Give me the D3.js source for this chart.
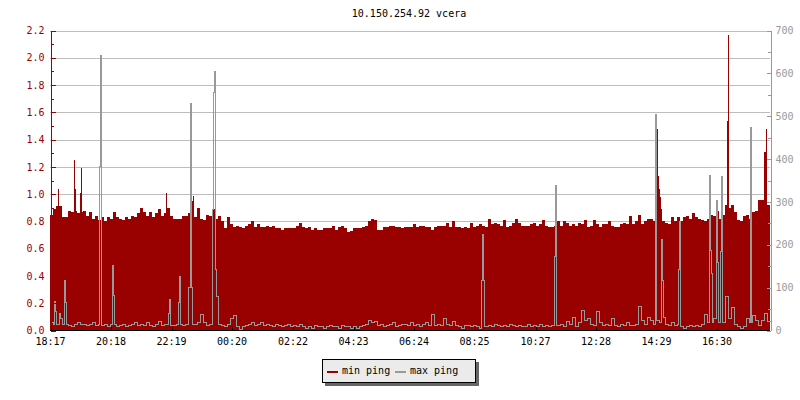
<!DOCTYPE html>
<html><head><meta charset="utf-8">
<script src="https://cdn.jsdelivr.net/npm/d3@7"></script>
<style>
body{margin:0;background:#fff}
svg text{font-family:"DejaVu Sans Mono",monospace;font-size:10px}
</style>
</head><body><svg id="c" width="800" height="400"></svg>
<script>
const title = "10.150.254.92 vcera";
const startTime = "18:17";
const binMinutes = 6;      // resolution of the binned series
const stepMinutes = 2;     // resolution of the drawn graph
const timeLabels = ["18:17","20:18","22:19","00:20","02:22","04:23","06:24","08:25","10:27","12:28","14:29","16:30"];
const leftTicks = [0,0.2,0.4,0.6,0.8,1.0,1.2,1.4,1.6,1.8,2.0,2.2];
const leftMinor = [0.1,0.3,0.5,0.7,0.9,1.1,1.3,1.5,1.7,1.9,2.1];
const rightTicks = [0,100,200,300,400,500,600,700];
const rightMinor = [50,150,250,350,450,550,650];
const seriesNames = ["min ping","max ping"];
const seriesColors = ["#990000","#999999"];

// 6-minute bins
const minPing = [
0.85,0.89,0.91,0.91,0.83,0.83,0.88,0.87,0.88,0.86,0.87,0.88,0.84,0.87,0.82,0.84,0.81,0.83,0.80,0.83,
0.82,0.87,0.83,0.82,0.81,0.83,0.82,0.84,0.83,0.86,0.90,0.87,0.84,0.87,0.83,0.86,0.89,0.84,0.86,0.90,
0.84,0.82,0.82,0.82,0.84,0.84,0.86,0.88,0.83,0.90,0.82,0.81,0.85,0.84,0.89,0.82,0.84,0.80,0.75,0.83,
0.78,0.76,0.77,0.76,0.75,0.77,0.78,0.80,0.76,0.78,0.76,0.76,0.77,0.76,0.77,0.75,0.75,0.74,0.75,0.75,
0.75,0.75,0.77,0.79,0.76,0.75,0.76,0.74,0.75,0.74,0.74,0.75,0.75,0.75,0.77,0.74,0.76,0.77,0.75,0.72,
0.73,0.75,0.75,0.75,0.76,0.77,0.80,0.82,0.81,0.74,0.74,0.76,0.76,0.77,0.77,0.76,0.76,0.75,0.76,0.76,
0.76,0.78,0.76,0.77,0.77,0.76,0.76,0.74,0.76,0.77,0.77,0.77,0.79,0.76,0.80,0.76,0.76,0.75,0.76,0.75,
0.79,0.76,0.77,0.78,0.77,0.76,0.82,0.78,0.79,0.78,0.77,0.81,0.76,0.77,0.79,0.82,0.79,0.77,0.77,0.77,
0.78,0.79,0.77,0.78,0.81,0.77,0.76,0.76,0.77,0.80,0.77,0.80,0.79,0.77,0.78,0.77,0.79,0.78,0.81,0.76,
0.77,0.81,0.78,0.76,0.78,0.78,0.80,0.77,0.76,0.76,0.78,0.79,0.78,0.84,0.78,0.80,0.85,0.78,0.80,0.82,
0.82,0.80,0.89,0.89,0.80,0.79,0.78,0.83,0.80,0.83,0.80,0.83,0.84,0.82,0.86,0.83,0.82,0.81,0.80,0.82,
0.85,0.84,0.88,0.82,0.85,0.92,0.90,0.92,0.87,0.81,0.80,0.84,0.85,0.82,0.87,0.88,0.96,0.96,1.31,0.92
];
const maxPing = [
0.06,0.05,0.05,0.09,0.05,0.05,0.04,0.03,0.05,0.06,0.05,0.05,0.04,0.05,0.06,0.04,0.05,0.04,0.05,0.03,
0.05,0.05,0.03,0.04,0.05,0.03,0.04,0.05,0.06,0.04,0.05,0.04,0.06,0.04,0.03,0.05,0.07,0.04,0.05,0.05,
0.04,0.04,0.05,0.05,0.04,0.05,0.05,0.05,0.05,0.06,0.12,0.06,0.04,0.05,0.05,0.05,0.05,0.04,0.03,0.05,
0.09,0.11,0.03,0.01,0.03,0.04,0.05,0.06,0.04,0.05,0.06,0.04,0.05,0.04,0.03,0.05,0.04,0.03,0.04,0.05,
0.03,0.04,0.03,0.05,0.03,0.02,0.03,0.02,0.04,0.03,0.03,0.02,0.03,0.04,0.03,0.03,0.02,0.04,0.03,0.03,
0.02,0.03,0.02,0.03,0.04,0.05,0.08,0.06,0.07,0.04,0.05,0.03,0.04,0.05,0.06,0.03,0.04,0.05,0.05,0.04,
0.06,0.04,0.05,0.03,0.05,0.06,0.04,0.12,0.04,0.05,0.04,0.09,0.05,0.04,0.07,0.04,0.03,0.02,0.04,0.04,
0.03,0.04,0.03,0.02,0.03,0.03,0.04,0.03,0.05,0.04,0.03,0.04,0.03,0.05,0.04,0.03,0.04,0.03,0.03,0.05,
0.03,0.04,0.03,0.05,0.03,0.04,0.03,0.04,0.04,0.04,0.05,0.03,0.07,0.05,0.10,0.03,0.06,0.15,0.08,0.09,
0.05,0.04,0.14,0.06,0.04,0.05,0.04,0.09,0.04,0.03,0.05,0.04,0.06,0.04,0.04,0.05,0.18,0.08,0.05,0.10,
0.08,0.05,0.08,0.06,0.10,0.05,0.04,0.06,0.04,0.05,0.03,0.02,0.03,0.04,0.03,0.04,0.03,0.05,0.12,0.06,
0.06,0.09,0.06,0.06,0.06,0.25,0.09,0.17,0.05,0.03,0.02,0.03,0.09,0.06,0.11,0.08,0.04,0.08,0.13,0.07
];
// short 2-minute peaks: [time, value]
const minPingPeaks = [
["18:33",1.04],["19:05",1.25],["19:07",1.04],["19:17",1.01],["19:19",1.19],["22:09",1.01],
["23:01",0.95],["23:03",0.99],["14:31",1.48],["14:33",1.13],["14:35",1.04],["14:37",0.98],
["16:51",1.54],["16:53",2.17],["18:09",1.48]
];
const maxPingPeaks = [
["18:25",0.22],["18:27",0.14],["18:35",0.13],["18:45",0.37],["18:47",0.21],["19:55",1.21],["19:57",2.02],
["20:21",0.48],["20:23",0.26],["22:13",0.13],["22:15",0.23],["22:33",0.21],["22:35",0.40],
["22:53",0.32],["22:55",0.32],["22:57",1.67],["22:59",0.32],["23:41",0.89],["23:43",1.75],["23:45",1.90],
["23:47",0.45],["23:49",0.25],["23:51",0.25],["08:39",0.37],["08:41",0.71],["08:43",0.37],
["11:05",0.55],["11:07",1.07],["14:27",1.59],["14:39",0.67],["14:41",0.37],
["15:13",0.45],["15:15",0.80],["16:15",1.14],["16:17",0.59],["16:19",0.42],["16:29",0.96],["16:31",0.50],
["16:37",0.58],["16:39",1.13],["17:37",1.49]
];

const svg = d3.select("#c");
const N = minPing.length;
const totalMin = N * binMinutes;
const toMin = s => { const [h,m] = s.split(":").map(Number); return h*60+m; };
const t0 = toMin(startTime);
const offset = s => ((toMin(s) - t0) % 1440 + 1440) % 1440;
const tickMinutes = timeLabels.map(offset);

function series(bins, peaks){
  const steps = totalMin / stepMinutes;
  const per = binMinutes / stepMinutes;
  const vals = d3.range(steps).map(s => bins[Math.floor(s/per)]);
  peaks.forEach(([t,v]) => { const s = Math.floor(offset(t)/stepMinutes); if (s < steps) vals[s] = v; });
  const d = vals.map((v,s)=>[s*stepMinutes, v]);
  d.push([steps*stepMinutes, vals[steps-1]]);
  return d;
}

const x = d3.scaleLinear().domain([0, totalMin]).range([50, 770]);
const yL = d3.scaleLinear().domain([0, 2.2]).range([330.5, 30.5]);
const yR = d3.scaleLinear().domain([0, 700]).range([330.5, 30.5]);

svg.append("text").attr("x", 409).attr("y", 17).attr("text-anchor","middle").attr("fill","#000").text(title);

svg.append("g").selectAll("line").data(leftTicks.filter(d=>d>0)).join("line")
  .attr("x1", 50).attr("x2", 770).attr("y1", d=>Math.round(yL(d))+0.5).attr("y2", d=>Math.round(yL(d))+0.5)
  .attr("stroke","#bdbdbd").attr("stroke-width",1);

const area = d3.area().curve(d3.curveStepAfter).x(d=>x(d[0])).y0(yL(0)).y1(d=>yL(d[1]));
svg.append("path").datum(series(minPing, minPingPeaks)).attr("d", area).attr("fill", seriesColors[0]).attr("shape-rendering","crispEdges");

const line = d3.line().curve(d3.curveStepAfter).x(d=>x(d[0])+0.5).y(d=>Math.round(yL(d[1]))+0.5);
svg.append("path").datum(series(maxPing, maxPingPeaks)).attr("d", line).attr("fill","none").attr("stroke", seriesColors[1]).attr("stroke-width",1).attr("shape-rendering","crispEdges");

// left axis
const gl = svg.append("g").attr("transform","translate(50.5,0)");
gl.call(d3.axisLeft(yL).tickValues(leftMinor).tickSize(-3).tickSizeOuter(0).tickFormat(""));
const gl2 = svg.append("g").attr("transform","translate(50.5,0)");
gl2.call(d3.axisLeft(yL).tickValues(leftTicks).tickSize(-5).tickSizeOuter(0).tickPadding(6).tickFormat(d3.format(".1f")));
[gl,gl2].forEach(g=>{ g.attr("font-family",null).attr("font-size",null);
  g.selectAll("path.domain").attr("stroke","#990000");
  g.selectAll(".tick line").attr("stroke","#990000");
  g.selectAll(".tick text").attr("fill","#990000"); });

// right axis
const gr = svg.append("g").attr("transform","translate(770.5,0)");
gr.call(d3.axisRight(yR).tickValues(rightMinor).tickSize(-3).tickSizeOuter(0).tickFormat(""));
const gr2 = svg.append("g").attr("transform","translate(770.5,0)");
gr2.call(d3.axisRight(yR).tickValues(rightTicks).tickSize(-4).tickSizeOuter(0).tickPadding(5));
[gr,gr2].forEach(g=>{ g.attr("font-family",null).attr("font-size",null);
  g.selectAll("path.domain").attr("stroke","#999999");
  g.selectAll(".tick line").attr("stroke","#999999");
  g.selectAll(".tick text").attr("fill","#999999"); });

// bottom axis
const gb = svg.append("g").attr("transform","translate(0,330.5)");
gb.call(d3.axisBottom(x).tickValues(tickMinutes).tickSize(-4).tickSizeOuter(0).tickPadding(7).tickFormat((d,i)=>timeLabels[i]));
gb.attr("font-family",null).attr("font-size",null);
gb.selectAll("path.domain").attr("stroke","#000").attr("d","M50,0H770");
gb.selectAll(".tick line").attr("stroke","#000").attr("transform","translate(0.5,0)");
gb.selectAll(".tick text").attr("fill","#000");
svg.selectAll("path.domain, .tick line").attr("shape-rendering","crispEdges");

// legend
const lg = svg.append("g");
lg.append("rect").attr("x",325).attr("y",362).attr("width",154).attr("height",24).attr("fill","#666666");
lg.append("rect").attr("x",322.5).attr("y",359.5).attr("width",153).attr("height",23).attr("fill","#ebebeb").attr("stroke","#000").attr("shape-rendering","crispEdges");
const legX = [327, 395];
seriesNames.forEach((name,i)=>{
  lg.append("rect").attr("x",legX[i]).attr("y",371).attr("width",11).attr("height",2).attr("fill",seriesColors[i]);
  lg.append("text").attr("x",legX[i]+15).attr("y",374).attr("fill","#000").text(name);
});
</script>
</body></html>
